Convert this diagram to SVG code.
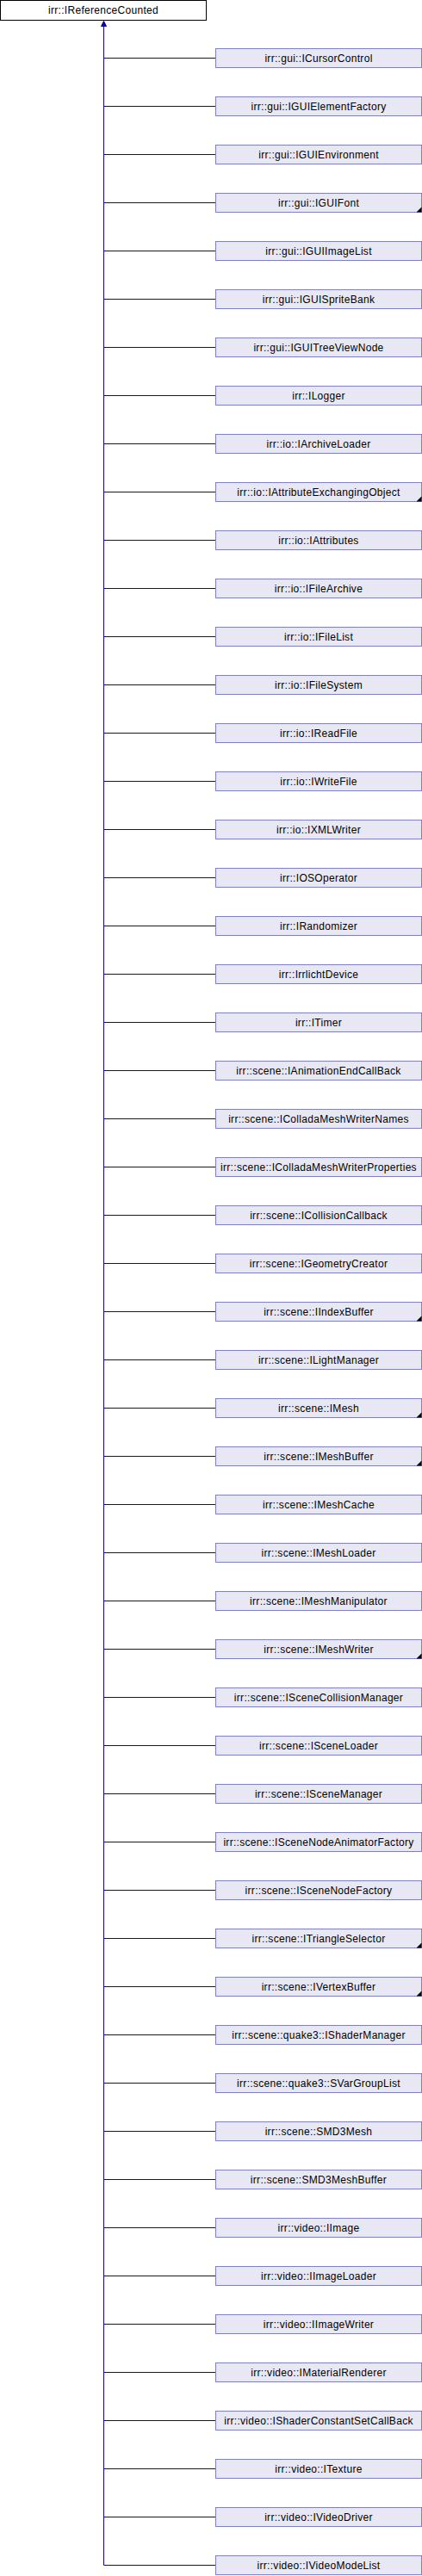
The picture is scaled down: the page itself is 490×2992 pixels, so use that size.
<svg xmlns="http://www.w3.org/2000/svg" width="490" height="2992" viewBox="0 0 490 2992">
<style>
.bg{fill:#ffffff}
.root rect{fill:#ffffff;stroke:#000000;stroke-width:1}
.n rect{fill:#e8e8f4;stroke:#8080c8;stroke-width:1}
.n polygon{fill:#8080c8}
text{font-family:"Liberation Sans",Arial,sans-serif;font-size:12px;letter-spacing:0.3px;text-anchor:middle;fill:#000000}
.edge{fill:none;stroke:#0a0a9a;stroke-width:1}
.ah{fill:#0a0a9a;stroke:#0a0a9a}
</style>
<defs>
<polygon id="corner" points="233.5,22.5 239.5,22.5 239.5,16.5"/>
</defs>
<rect class="bg" x="0" y="0" width="490" height="2992"/>
<g id="edges">
<path class="edge" d="M120.5,30 V2979.5 M120.5,67.5 H250 M120.5,123.5 H250 M120.5,179.5 H250 M120.5,235.5 H250 M120.5,291.5 H250 M120.5,347.5 H250 M120.5,403.5 H250 M120.5,459.5 H250 M120.5,515.5 H250 M120.5,571.5 H250 M120.5,627.5 H250 M120.5,683.5 H250 M120.5,739.5 H250 M120.5,795.5 H250 M120.5,851.5 H250 M120.5,907.5 H250 M120.5,963.5 H250 M120.5,1019.5 H250 M120.5,1075.5 H250 M120.5,1131.5 H250 M120.5,1187.5 H250 M120.5,1243.5 H250 M120.5,1299.5 H250 M120.5,1355.5 H250 M120.5,1411.5 H250 M120.5,1467.5 H250 M120.5,1523.5 H250 M120.5,1579.5 H250 M120.5,1635.5 H250 M120.5,1691.5 H250 M120.5,1747.5 H250 M120.5,1803.5 H250 M120.5,1859.5 H250 M120.5,1915.5 H250 M120.5,1971.5 H250 M120.5,2027.5 H250 M120.5,2083.5 H250 M120.5,2139.5 H250 M120.5,2195.5 H250 M120.5,2251.5 H250 M120.5,2307.5 H250 M120.5,2363.5 H250 M120.5,2419.5 H250 M120.5,2475.5 H250 M120.5,2531.5 H250 M120.5,2587.5 H250 M120.5,2643.5 H250 M120.5,2699.5 H250 M120.5,2755.5 H250 M120.5,2811.5 H250 M120.5,2867.5 H250 M120.5,2923.5 H250 M120.5,2979.5 H250"/>
<polygon class="ah" points="120.5,24.5 117.5,30.5 123.5,30.5"/>
</g>
<g id="root" class="root"><rect x="0.5" y="0.5" width="239" height="23"/><text x="120" y="15.5">irr::IReferenceCounted</text></g>
<g id="n1" class="n" transform="translate(250,56)"><rect x="0.5" y="0.5" width="239" height="22"/><text x="120" y="15.5">irr::gui::ICursorControl</text></g>
<g id="n2" class="n" transform="translate(250,112)"><rect x="0.5" y="0.5" width="239" height="22"/><text x="120" y="15.5">irr::gui::IGUIElementFactory</text></g>
<g id="n3" class="n" transform="translate(250,168)"><rect x="0.5" y="0.5" width="239" height="22"/><text x="120" y="15.5">irr::gui::IGUIEnvironment</text></g>
<g id="n4" class="n" transform="translate(250,224)"><rect x="0.5" y="0.5" width="239" height="22"/><use href="#corner"/><text x="120" y="15.5">irr::gui::IGUIFont</text></g>
<g id="n5" class="n" transform="translate(250,280)"><rect x="0.5" y="0.5" width="239" height="22"/><text x="120" y="15.5">irr::gui::IGUIImageList</text></g>
<g id="n6" class="n" transform="translate(250,336)"><rect x="0.5" y="0.5" width="239" height="22"/><text x="120" y="15.5">irr::gui::IGUISpriteBank</text></g>
<g id="n7" class="n" transform="translate(250,392)"><rect x="0.5" y="0.5" width="239" height="22"/><text x="120" y="15.5">irr::gui::IGUITreeViewNode</text></g>
<g id="n8" class="n" transform="translate(250,448)"><rect x="0.5" y="0.5" width="239" height="22"/><text x="120" y="15.5">irr::ILogger</text></g>
<g id="n9" class="n" transform="translate(250,504)"><rect x="0.5" y="0.5" width="239" height="22"/><text x="120" y="15.5">irr::io::IArchiveLoader</text></g>
<g id="n10" class="n" transform="translate(250,560)"><rect x="0.5" y="0.5" width="239" height="22"/><use href="#corner"/><text x="120" y="15.5">irr::io::IAttributeExchangingObject</text></g>
<g id="n11" class="n" transform="translate(250,616)"><rect x="0.5" y="0.5" width="239" height="22"/><text x="120" y="15.5">irr::io::IAttributes</text></g>
<g id="n12" class="n" transform="translate(250,672)"><rect x="0.5" y="0.5" width="239" height="22"/><text x="120" y="15.5">irr::io::IFileArchive</text></g>
<g id="n13" class="n" transform="translate(250,728)"><rect x="0.5" y="0.5" width="239" height="22"/><text x="120" y="15.5">irr::io::IFileList</text></g>
<g id="n14" class="n" transform="translate(250,784)"><rect x="0.5" y="0.5" width="239" height="22"/><text x="120" y="15.5">irr::io::IFileSystem</text></g>
<g id="n15" class="n" transform="translate(250,840)"><rect x="0.5" y="0.5" width="239" height="22"/><text x="120" y="15.5">irr::io::IReadFile</text></g>
<g id="n16" class="n" transform="translate(250,896)"><rect x="0.5" y="0.5" width="239" height="22"/><text x="120" y="15.5">irr::io::IWriteFile</text></g>
<g id="n17" class="n" transform="translate(250,952)"><rect x="0.5" y="0.5" width="239" height="22"/><text x="120" y="15.5">irr::io::IXMLWriter</text></g>
<g id="n18" class="n" transform="translate(250,1008)"><rect x="0.5" y="0.5" width="239" height="22"/><text x="120" y="15.5">irr::IOSOperator</text></g>
<g id="n19" class="n" transform="translate(250,1064)"><rect x="0.5" y="0.5" width="239" height="22"/><text x="120" y="15.5">irr::IRandomizer</text></g>
<g id="n20" class="n" transform="translate(250,1120)"><rect x="0.5" y="0.5" width="239" height="22"/><text x="120" y="15.5">irr::IrrlichtDevice</text></g>
<g id="n21" class="n" transform="translate(250,1176)"><rect x="0.5" y="0.5" width="239" height="22"/><text x="120" y="15.5">irr::ITimer</text></g>
<g id="n22" class="n" transform="translate(250,1232)"><rect x="0.5" y="0.5" width="239" height="22"/><text x="120" y="15.5">irr::scene::IAnimationEndCallBack</text></g>
<g id="n23" class="n" transform="translate(250,1288)"><rect x="0.5" y="0.5" width="239" height="22"/><text x="120" y="15.5">irr::scene::IColladaMeshWriterNames</text></g>
<g id="n24" class="n" transform="translate(250,1344)"><rect x="0.5" y="0.5" width="239" height="22"/><text x="120" y="15.5">irr::scene::IColladaMeshWriterProperties</text></g>
<g id="n25" class="n" transform="translate(250,1400)"><rect x="0.5" y="0.5" width="239" height="22"/><text x="120" y="15.5">irr::scene::ICollisionCallback</text></g>
<g id="n26" class="n" transform="translate(250,1456)"><rect x="0.5" y="0.5" width="239" height="22"/><text x="120" y="15.5">irr::scene::IGeometryCreator</text></g>
<g id="n27" class="n" transform="translate(250,1512)"><rect x="0.5" y="0.5" width="239" height="22"/><use href="#corner"/><text x="120" y="15.5">irr::scene::IIndexBuffer</text></g>
<g id="n28" class="n" transform="translate(250,1568)"><rect x="0.5" y="0.5" width="239" height="22"/><text x="120" y="15.5">irr::scene::ILightManager</text></g>
<g id="n29" class="n" transform="translate(250,1624)"><rect x="0.5" y="0.5" width="239" height="22"/><use href="#corner"/><text x="120" y="15.5">irr::scene::IMesh</text></g>
<g id="n30" class="n" transform="translate(250,1680)"><rect x="0.5" y="0.5" width="239" height="22"/><use href="#corner"/><text x="120" y="15.5">irr::scene::IMeshBuffer</text></g>
<g id="n31" class="n" transform="translate(250,1736)"><rect x="0.5" y="0.5" width="239" height="22"/><text x="120" y="15.5">irr::scene::IMeshCache</text></g>
<g id="n32" class="n" transform="translate(250,1792)"><rect x="0.5" y="0.5" width="239" height="22"/><text x="120" y="15.5">irr::scene::IMeshLoader</text></g>
<g id="n33" class="n" transform="translate(250,1848)"><rect x="0.5" y="0.5" width="239" height="22"/><text x="120" y="15.5">irr::scene::IMeshManipulator</text></g>
<g id="n34" class="n" transform="translate(250,1904)"><rect x="0.5" y="0.5" width="239" height="22"/><use href="#corner"/><text x="120" y="15.5">irr::scene::IMeshWriter</text></g>
<g id="n35" class="n" transform="translate(250,1960)"><rect x="0.5" y="0.5" width="239" height="22"/><text x="120" y="15.5">irr::scene::ISceneCollisionManager</text></g>
<g id="n36" class="n" transform="translate(250,2016)"><rect x="0.5" y="0.5" width="239" height="22"/><text x="120" y="15.5">irr::scene::ISceneLoader</text></g>
<g id="n37" class="n" transform="translate(250,2072)"><rect x="0.5" y="0.5" width="239" height="22"/><text x="120" y="15.5">irr::scene::ISceneManager</text></g>
<g id="n38" class="n" transform="translate(250,2128)"><rect x="0.5" y="0.5" width="239" height="22"/><text x="120" y="15.5">irr::scene::ISceneNodeAnimatorFactory</text></g>
<g id="n39" class="n" transform="translate(250,2184)"><rect x="0.5" y="0.5" width="239" height="22"/><text x="120" y="15.5">irr::scene::ISceneNodeFactory</text></g>
<g id="n40" class="n" transform="translate(250,2240)"><rect x="0.5" y="0.5" width="239" height="22"/><use href="#corner"/><text x="120" y="15.5">irr::scene::ITriangleSelector</text></g>
<g id="n41" class="n" transform="translate(250,2296)"><rect x="0.5" y="0.5" width="239" height="22"/><use href="#corner"/><text x="120" y="15.5">irr::scene::IVertexBuffer</text></g>
<g id="n42" class="n" transform="translate(250,2352)"><rect x="0.5" y="0.5" width="239" height="22"/><text x="120" y="15.5">irr::scene::quake3::IShaderManager</text></g>
<g id="n43" class="n" transform="translate(250,2408)"><rect x="0.5" y="0.5" width="239" height="22"/><text x="120" y="15.5">irr::scene::quake3::SVarGroupList</text></g>
<g id="n44" class="n" transform="translate(250,2464)"><rect x="0.5" y="0.5" width="239" height="22"/><text x="120" y="15.5">irr::scene::SMD3Mesh</text></g>
<g id="n45" class="n" transform="translate(250,2520)"><rect x="0.5" y="0.5" width="239" height="22"/><text x="120" y="15.5">irr::scene::SMD3MeshBuffer</text></g>
<g id="n46" class="n" transform="translate(250,2576)"><rect x="0.5" y="0.5" width="239" height="22"/><text x="120" y="15.5">irr::video::IImage</text></g>
<g id="n47" class="n" transform="translate(250,2632)"><rect x="0.5" y="0.5" width="239" height="22"/><text x="120" y="15.5">irr::video::IImageLoader</text></g>
<g id="n48" class="n" transform="translate(250,2688)"><rect x="0.5" y="0.5" width="239" height="22"/><text x="120" y="15.5">irr::video::IImageWriter</text></g>
<g id="n49" class="n" transform="translate(250,2744)"><rect x="0.5" y="0.5" width="239" height="22"/><text x="120" y="15.5">irr::video::IMaterialRenderer</text></g>
<g id="n50" class="n" transform="translate(250,2800)"><rect x="0.5" y="0.5" width="239" height="22"/><text x="120" y="15.5">irr::video::IShaderConstantSetCallBack</text></g>
<g id="n51" class="n" transform="translate(250,2856)"><rect x="0.5" y="0.5" width="239" height="22"/><text x="120" y="15.5">irr::video::ITexture</text></g>
<g id="n52" class="n" transform="translate(250,2912)"><rect x="0.5" y="0.5" width="239" height="22"/><text x="120" y="15.5">irr::video::IVideoDriver</text></g>
<g id="n53" class="n" transform="translate(250,2968)"><rect x="0.5" y="0.5" width="239" height="22"/><text x="120" y="15.5">irr::video::IVideoModeList</text></g>
</svg>
